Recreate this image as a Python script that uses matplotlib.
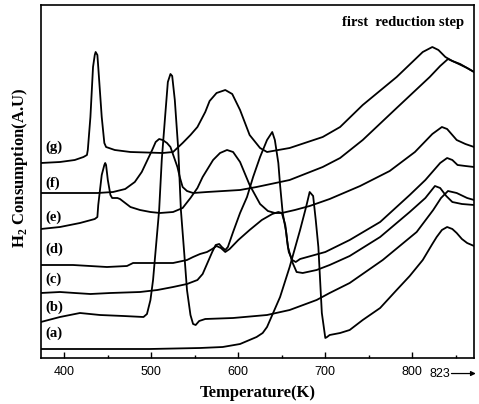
import matplotlib
matplotlib.use("Agg")
import matplotlib.pyplot as plt
from matplotlib.ticker import MultipleLocator, NullLocator
import matplotlib.transforms as mtransforms

plt.rcParams['mathtext.fontset'] = 'custom'
plt.rcParams['mathtext.rm'] = 'Liberation Serif:bold'
plt.rcParams['mathtext.bf'] = 'Liberation Serif:bold'

# TPR curves, temperature (K) vs H2 consumption (a.u.)
temp_a = [373, 441, 498, 556, 582, 602, 621, 628, 633, 640, 648, 659, 671, 677, 679, 682, 686, 689, 692, 696, 700, 702, 705, 717, 728, 743, 763, 782, 797, 812, 823, 828, 834, 840, 846, 851, 857, 863, 871]
sig_a = [9, 9, 9, 10, 11, 14, 21, 25, 31, 45, 61, 91, 128, 148, 155, 166, 162, 138, 111, 45, 20, 21, 23, 25, 28, 38, 50, 68, 82, 98, 114, 121, 128, 131, 129, 125, 119, 115, 112]

temp_b = [373, 395, 418, 441, 468, 491, 495, 499, 502, 505, 509, 512, 516, 519, 522, 524, 527, 531, 534, 538, 541, 545, 548, 551, 555, 562, 594, 633, 659, 690, 705, 728, 766, 805, 824, 833, 841, 851, 863, 871]
sig_b = [36, 41, 45, 43, 42, 41, 44, 58, 78, 108, 148, 198, 243, 276, 284, 282, 258, 208, 148, 103, 68, 43, 34, 33, 37, 39, 40, 43, 48, 58, 65, 75, 98, 126, 148, 160, 167, 165, 160, 158]

temp_c = [373, 395, 412, 430, 453, 487, 507, 525, 541, 553, 559, 565, 570, 574, 578, 581, 585, 588, 594, 602, 610, 617, 625, 633, 639, 642, 646, 648, 651, 655, 657, 662, 667, 674, 690, 705, 728, 763, 797, 815, 826, 832, 839, 846, 857, 871]
sig_c = [65, 66, 65, 64, 65, 66, 68, 71, 74, 78, 84, 96, 106, 113, 114, 111, 108, 111, 126, 145, 161, 181, 201, 218, 226, 218, 195, 173, 145, 126, 111, 96, 86, 85, 88, 93, 102, 121, 146, 160, 172, 170, 162, 156, 154, 153]

temp_d = [373, 410, 449, 472, 479, 498, 525, 541, 548, 556, 564, 570, 575, 580, 585, 590, 600, 613, 627, 639, 646, 650, 654, 656, 658, 662, 666, 671, 700, 728, 763, 797, 815, 832, 840, 846, 852, 861, 871]
sig_d = [93, 93, 91, 92, 95, 95, 95, 98, 101, 104, 106, 109, 112, 110, 106, 109, 118, 128, 138, 144, 146, 145, 133, 118, 106, 98, 96, 99, 106, 118, 136, 163, 178, 195, 200, 198, 193, 192, 191]

temp_e = [373, 395, 418, 435, 438, 439, 441, 443, 446, 447, 448, 450, 453, 455, 461, 464, 470, 476, 487, 499, 510, 525, 536, 545, 553, 559, 571, 579, 587, 594, 602, 613, 625, 634, 642, 650, 665, 682, 705, 740, 774, 803, 823, 834, 840, 851, 861, 871]
sig_e = [129, 131, 135, 139, 141, 153, 168, 183, 193, 195, 193, 178, 163, 160, 160, 159, 155, 151, 148, 146, 145, 146, 150, 160, 170, 181, 198, 205, 208, 206, 196, 173, 154, 147, 145, 145, 148, 152, 159, 172, 187, 206, 224, 231, 229, 218, 214, 211]

temp_f = [373, 438, 456, 470, 481, 489, 495, 501, 505, 509, 513, 518, 522, 526, 530, 533, 536, 541, 548, 564, 602, 621, 659, 697, 717, 743, 782, 820, 832, 841, 851, 863, 871]
sig_f = [165, 165, 166, 169, 176, 186, 197, 208, 216, 219, 218, 215, 211, 201, 191, 180, 171, 167, 165, 166, 168, 171, 178, 191, 200, 218, 250, 281, 292, 299, 295, 290, 286]

temp_g = [373, 395, 412, 422, 426, 427, 430, 433, 435, 436, 438, 439, 443, 446, 448, 458, 476, 513, 525, 536, 545, 553, 562, 567, 575, 585, 593, 602, 613, 625, 633, 659, 697, 717, 743, 782, 812, 823, 830, 838, 846, 855, 863, 871]
sig_g = [195, 196, 198, 201, 203, 208, 241, 291, 303, 306, 303, 291, 241, 215, 211, 208, 206, 205, 206, 215, 223, 231, 246, 257, 265, 268, 264, 248, 223, 210, 206, 210, 221, 231, 253, 281, 306, 311, 308, 301, 297, 294, 290, 286]

curves = [(temp_a, sig_a), (temp_b, sig_b), (temp_c, sig_c), (temp_d, sig_d),
          (temp_e, sig_e), (temp_f, sig_f), (temp_g, sig_g)]
labels = ['(a)', '(b)', '(c)', '(d)', '(e)', '(f)', '(g)']
label_y = [25, 51, 79, 109, 141, 175, 211]

serif_bold = dict(family='Liberation Serif', weight='bold')

fig = plt.figure(figsize=(4.79, 4.04), dpi=100)
ax = fig.add_axes([41 / 479, 46 / 404, 433 / 479, 353 / 404])

for t, s in curves:
    ax.plot(t, s, color='black', lw=1.3, solid_joinstyle='round')

for lab, ly in zip(labels, label_y):
    ax.text(0.009, ly, lab, transform=mtransforms.blended_transform_factory(ax.transAxes, ax.transData),
            ha='left', va='center', fontsize=10.5, **serif_bold)

ax.set_xlim(373.2, 870.9)
ax.set_ylim(0, 353)
ax.xaxis.set_major_locator(MultipleLocator(100))
ax.xaxis.set_minor_locator(MultipleLocator(50))
ax.yaxis.set_major_locator(NullLocator())
ax.tick_params(axis='x', which='both', direction='in', pad=6, labelsize=9)
ax.tick_params(axis='x', which='major', length=4, width=1)
ax.tick_params(axis='x', which='minor', length=2.5, width=1)
for lab in ax.get_xticklabels():
    lab.set_family('Liberation Sans')
for sp in ax.spines.values():
    sp.set_linewidth(1.2)

# 823 K marker with arrow below the axis
trans = mtransforms.blended_transform_factory(ax.transData, ax.transAxes)
ax.text(832, -0.044, '823', transform=trans, ha='center', va='center',
        fontsize=9, family='Liberation Sans')
ax.annotate('', xy=(873, -0.044), xytext=(845, -0.044), xycoords=trans, textcoords=trans,
            arrowprops=dict(arrowstyle='-|>', color='black', lw=0.9, mutation_scale=7,
                            shrinkA=0, shrinkB=0),
            annotation_clip=False)

ax.text(0.978, 0.95, 'first  reduction step', transform=ax.transAxes, ha='right', va='center',
        fontsize=10.5, **serif_bold)

ax.set_xlabel('Temperature(K)', fontsize=12, labelpad=5, **serif_bold)
fig.text(20 / 479, 1 - 168 / 404, 'H$_2$ Consumption(A.U)', rotation=90, ha='center', va='center',
         fontsize=12, **serif_bold)

fig.savefig('out.png', dpi=100)
